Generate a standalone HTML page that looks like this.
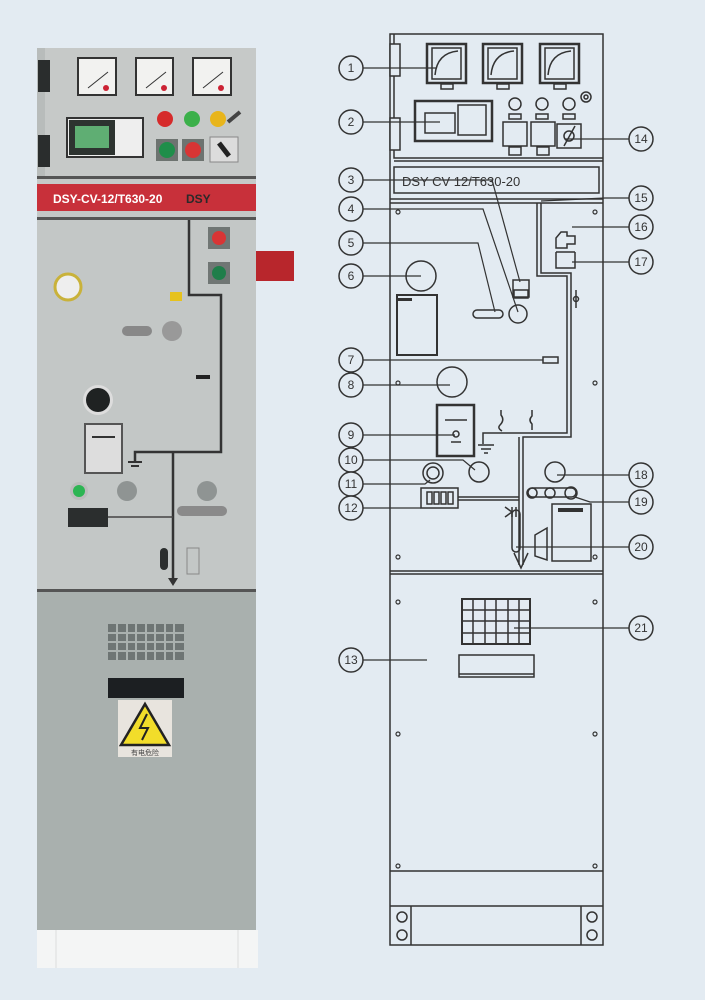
<!DOCTYPE html>
<html><head><meta charset="utf-8"><style>
html,body{margin:0;padding:0;background:#e3ebf2;}
svg{display:block}
text{font-family:"Liberation Sans","Noto Sans CJK SC",sans-serif;}
</style></head><body>
<svg width="705" height="1000" viewBox="0 0 705 1000" xmlns="http://www.w3.org/2000/svg">
<rect width="705" height="1000" fill="#e3ebf2"/>
<!-- LEFT PHOTO -->
<rect x="37" y="48" width="219" height="130" fill="#c6c9c8"/>
<rect x="37" y="48" width="8" height="545" fill="#b8bcbb"/>
<rect x="38" y="60" width="12" height="32" fill="#2a2d2d"/>
<rect x="38" y="135" width="12" height="32" fill="#2a2d2d"/>
<g fill="#f2f2f0" stroke="#333" stroke-width="2">
<rect x="78" y="58" width="38" height="37"/><rect x="136" y="58" width="37" height="37"/><rect x="193" y="58" width="38" height="37"/>
</g>
<g stroke="#333" stroke-width="1" fill="none"><path d="M88 88 L108 72 M146 88 L166 72 M203 88 L223 72"/></g>
<g fill="#c23"><circle cx="106" cy="88" r="3"/><circle cx="164" cy="88" r="3"/><circle cx="221" cy="88" r="3"/></g>
<rect x="67" y="118" width="76" height="39" fill="#eee" stroke="#333" stroke-width="2"/>
<rect x="69" y="120" width="46" height="35" fill="#2d3330"/>
<rect x="75" y="126" width="34" height="22" fill="#5fae73"/>
<circle cx="165" cy="119" r="8" fill="#d62b2b"/><circle cx="192" cy="119" r="8" fill="#3bb04a"/><circle cx="218" cy="119" r="8" fill="#e8b51c"/>
<path d="M228 122 L240 112" stroke="#444" stroke-width="4"/>
<rect x="156" y="139" width="22" height="22" fill="#6d7370"/><circle cx="167" cy="150" r="8" fill="#1f8e4a"/>
<rect x="182" y="139" width="22" height="22" fill="#6d7370"/><circle cx="193" cy="150" r="8" fill="#d83535"/>
<rect x="210" y="137" width="28" height="25" fill="#dcdcdc" stroke="#888"/><path d="M219 143 L229 156" stroke="#222" stroke-width="5"/>
<rect x="37" y="176" width="219" height="3" fill="#555"/>
<rect x="37" y="179" width="219" height="6" fill="#c6c9c8"/>
<rect x="37" y="184" width="219" height="27" fill="#c8303a"/>
<text x="53" y="203" font-size="12" font-weight="bold" fill="#fff">DSY-CV-12/T630-20</text>
<text x="186" y="203" font-size="12" font-weight="bold" fill="#2a2a2a">DSY</text>
<rect x="37" y="211" width="219" height="382" fill="#c3c7c6"/>
<rect x="37" y="217" width="219" height="3" fill="#555"/>
<rect x="256" y="251" width="38" height="30" fill="#b8262c"/>
<path d="M189 220 V295 H221 V452 H135 V462 M173 452 V580" stroke="#333" stroke-width="2.5" fill="none"/>
<path d="M128 462 H142 M131 466 H139" stroke="#333" stroke-width="2"/>
<path d="M168 578 L173 586 L178 578" fill="#333"/>
<rect x="208" y="227" width="22" height="22" fill="#707674"/><circle cx="219" cy="238" r="7" fill="#d83535"/>
<rect x="208" y="262" width="22" height="22" fill="#707674"/><circle cx="219" cy="273" r="7" fill="#1f7e4a"/>
<circle cx="68" cy="287" r="13" fill="#eee" stroke="#c9b23a" stroke-width="3"/>
<rect x="170" y="292" width="12" height="9" fill="#e6c21d"/>
<rect x="122" y="326" width="30" height="10" rx="5" fill="#888"/><circle cx="172" cy="331" r="10" fill="#999"/>
<rect x="196" y="375" width="14" height="4" fill="#222"/>
<circle cx="98" cy="400" r="15" fill="#ddd"/><circle cx="98" cy="400" r="12" fill="#1f2222"/>
<rect x="85" y="424" width="37" height="49" fill="#ddd" stroke="#555" stroke-width="2"/>
<path d="M92 437 H115" stroke="#333" stroke-width="2"/>
<circle cx="79" cy="491" r="9" fill="#bbb"/><circle cx="79" cy="491" r="6" fill="#2db553"/>
<circle cx="127" cy="491" r="10" fill="#8f9493"/><circle cx="207" cy="491" r="10" fill="#8f9493"/>
<rect x="177" y="506" width="50" height="10" rx="5" fill="#8a8a8a"/>
<rect x="68" y="508" width="40" height="19" fill="#2b2e2e"/>
<path d="M108 517 H173" stroke="#444" stroke-width="1.5"/>
<rect x="160" y="548" width="8" height="22" rx="4" fill="#2b2e2e"/>
<rect x="187" y="548" width="12" height="26" fill="none" stroke="#888"/>
<rect x="37" y="589" width="219" height="3" fill="#555"/>
<rect x="37" y="592" width="219" height="338" fill="#a9b0ae"/>
<g fill="#5f6665">
<rect x="108" y="624" width="76" height="36" opacity="0.8"/>
</g>
<g stroke="#a9b0ae" stroke-width="2"><path d="M108 633 H184 M108 642 H184 M108 651 H184 M117 624 V660 M127 624 V660 M136 624 V660 M146 624 V660 M155 624 V660 M165 624 V660 M174 624 V660"/></g>
<rect x="108" y="678" width="76" height="20" fill="#1c1f22"/>
<rect x="118" y="700" width="54" height="57" fill="#e8e4de"/>
<path d="M145 704 L169 745 L121 745 Z" fill="#f2dd2a" stroke="#222" stroke-width="2.5"/>
<path d="M147 714 L140 728 L148 728 L142 740" stroke="#222" stroke-width="2" fill="none"/>
<text x="145" y="755" font-size="7" fill="#444" text-anchor="middle">有电危险</text>
<rect x="37" y="930" width="221" height="38" fill="#f4f5f5"/>
<path d="M56 930 V968 M238 930 V968" stroke="#ddd"/>

<!-- RIGHT DIAGRAM -->
<g fill="none" stroke="#333" stroke-width="1.5">
<rect x="390" y="34" width="213" height="911"/>
<path d="M394 34 V158 H603 M394 161 H603"/>
<rect x="394" y="167" width="205" height="26"/>
<path d="M390 199 H603 M390 203 H603"/>
<path d="M390 571 H603 M390 574 H603"/>
<path d="M390 871 H603 M390 906 H603"/>
<path d="M411 906 V945 M581 906 V945"/>
<rect x="390" y="44" width="10" height="32" fill="#e3ebf2"/>
<rect x="390" y="118" width="10" height="32" fill="#e3ebf2"/>
<rect x="427" y="44" width="39" height="39" stroke-width="2.5"/><rect x="432" y="48" width="29" height="31"/>
<rect x="483" y="44" width="39" height="39" stroke-width="2.5"/><rect x="488" y="48" width="29" height="31"/>
<rect x="540" y="44" width="39" height="39" stroke-width="2.5"/><rect x="545" y="48" width="29" height="31"/>
<path d="M435 75 Q437 53 458 51 M491 75 Q493 53 514 51 M548 75 Q550 53 571 51"/>
<rect x="441" y="84" width="12" height="5"/><rect x="497" y="84" width="12" height="5"/><rect x="554" y="84" width="12" height="5"/>
<rect x="415" y="101" width="77" height="40" stroke-width="2.5"/>
<rect x="425" y="113" width="30" height="20"/>
<rect x="458" y="105" width="28" height="30"/>
<circle cx="515" cy="104" r="6"/><circle cx="542" cy="104" r="6"/><circle cx="569" cy="104" r="6"/>
<circle cx="586" cy="97" r="5"/><circle cx="586" cy="97" r="2"/>
<rect x="509" y="114" width="12" height="5"/><rect x="536" y="114" width="12" height="5"/><rect x="563" y="114" width="12" height="5"/>
<rect x="503" y="122" width="24" height="24"/><rect x="531" y="122" width="24" height="24"/>
<rect x="509" y="147" width="12" height="8"/><rect x="537" y="147" width="12" height="8"/>
<rect x="557" y="124" width="24" height="24"/><path d="M564 146 L575 126"/><circle cx="569" cy="136" r="5"/>
<path d="M537 203 V276 H567 V433 H483 V444"/>
<path d="M541 203 V273 H571 V437 H523 V565"/>
<path d="M519 437 V565"/>
<path d="M514 553 L521 568 L528 553"/>
<path d="M556 238 L561 232 H567 L567 236 H575 V244 H567 V248 H556 Z"/>
<path d="M556 252 H575 M556 252 V268 H575 V252"/>
<path d="M576 290 V308"/><circle cx="576" cy="299" r="2.5"/>
<rect x="513" y="280" width="16" height="17"/><rect x="514" y="290" width="14" height="8"/>
<circle cx="421" cy="276" r="15"/>
<rect x="397" y="295" width="40" height="60" stroke-width="2"/>
<rect x="473" y="310" width="30" height="8" rx="4"/>
<circle cx="518" cy="314" r="9"/>
<rect x="543" y="357" width="15" height="6"/>
<circle cx="452" cy="382" r="15"/>
<rect x="437" y="405" width="37" height="51" stroke-width="2.5"/>
<path d="M445 420 H467"/><circle cx="456" cy="434" r="3"/><path d="M451 442 H461"/>
<path d="M478 445 H494 M481 449 H491 M484 453 H488"/>
<path d="M501 410 V415 Q505 420 500 425 Q497 428 502 431 M532 410 V416 Q528 420 532 424 V430"/>
<circle cx="479" cy="472" r="10"/>
<circle cx="433" cy="473" r="10"/><circle cx="433" cy="473" r="6"/>
<rect x="421" y="488" width="37" height="20"/>
<rect x="427" y="492" width="5" height="12"/><rect x="434" y="492" width="5" height="12"/><rect x="441" y="492" width="5" height="12"/><rect x="448" y="492" width="5" height="12"/>
<path d="M458 497 H519 M458 500 H519"/>
<path d="M505 507 L512 512 L505 517 M512 507 V517 M516 507 V517"/>
<circle cx="555" cy="472" r="10"/>
<rect x="528" y="488" width="48" height="9" rx="4.5"/><circle cx="532" cy="493" r="5"/><circle cx="550" cy="493" r="5"/><circle cx="571" cy="493" r="6"/>
<rect x="552" y="504" width="39" height="57"/>
<rect x="512" y="510" width="8" height="42" rx="4"/>
<path d="M535 535 L547 528 V560 L535 556 Z"/>
<rect x="462" y="599" width="68" height="45" stroke-width="2"/>
<path d="M473 599 V644 M485 599 V644 M496 599 V644 M508 599 V644 M519 599 V644 M462 610 H530 M462 621 H530 M462 633 H530"/>
<rect x="459" y="655" width="75" height="22"/><path d="M459 674 H534"/>
<circle cx="402" cy="917" r="5"/><circle cx="402" cy="935" r="5"/><circle cx="592" cy="917" r="5"/><circle cx="592" cy="935" r="5"/>
</g>
<g fill="none" stroke="#333" stroke-width="1.2">
<circle cx="398" cy="212" r="2"/><circle cx="595" cy="212" r="2"/><circle cx="398" cy="383" r="2"/><circle cx="595" cy="383" r="2"/>
<circle cx="398" cy="557" r="2"/><circle cx="595" cy="557" r="2"/>
<circle cx="398" cy="602" r="2"/><circle cx="595" cy="602" r="2"/><circle cx="398" cy="734" r="2"/><circle cx="595" cy="734" r="2"/><circle cx="398" cy="866" r="2"/><circle cx="595" cy="866" r="2"/>
</g>
<rect x="398" y="298" width="14" height="3" fill="#333"/>
<rect x="558" y="508" width="25" height="4" fill="#333"/>
<text x="402" y="186" font-size="13" fill="#333">DSY CV 12/T630-20</text>
<!-- leaders -->
<g stroke="#333" stroke-width="1.2" fill="none">
<path d="M363 68 H436"/><path d="M363 122 H440"/><path d="M363 180 H492 L520 282"/>
<path d="M363 209 H483 L518 312"/><path d="M363 243 H478 L495 312"/>
<path d="M363 276 H421"/><path d="M363 360 H543"/><path d="M363 385 H450"/>
<path d="M363 435 H455"/><path d="M363 460 H463 L475 470"/><path d="M363 484 H425 L430 480"/>
<path d="M363 508 H421"/><path d="M363 660 H427"/>
<path d="M629 139 H565"/><path d="M629 198 H605 L541 201"/><path d="M629 227 H572"/><path d="M629 262 H572"/>
<path d="M629 475 H557"/><path d="M629 502 H590 L575 497"/><path d="M629 547 H516"/><path d="M629 628 H514"/>
</g>
<g fill="#e3ebf2" stroke="#333" stroke-width="1.5">
<circle cx="351" cy="68" r="12"/><circle cx="351" cy="122" r="12"/><circle cx="351" cy="180" r="12"/><circle cx="351" cy="209" r="12"/><circle cx="351" cy="243" r="12"/><circle cx="351" cy="276" r="12"/><circle cx="351" cy="360" r="12"/><circle cx="351" cy="385" r="12"/><circle cx="351" cy="435" r="12"/><circle cx="351" cy="460" r="12"/><circle cx="351" cy="484" r="12"/><circle cx="351" cy="508" r="12"/><circle cx="351" cy="660" r="12"/>
<circle cx="641" cy="139" r="12"/><circle cx="641" cy="198" r="12"/><circle cx="641" cy="227" r="12"/><circle cx="641" cy="262" r="12"/><circle cx="641" cy="475" r="12"/><circle cx="641" cy="502" r="12"/><circle cx="641" cy="547" r="12"/><circle cx="641" cy="628" r="12"/>
</g>
<g font-size="12" fill="#333" text-anchor="middle">
<text x="351" y="72">1</text><text x="351" y="126">2</text><text x="351" y="184">3</text><text x="351" y="213">4</text><text x="351" y="247">5</text><text x="351" y="280">6</text><text x="351" y="364">7</text><text x="351" y="389">8</text><text x="351" y="439">9</text><text x="351" y="464">10</text><text x="351" y="488">11</text><text x="351" y="512">12</text><text x="351" y="664">13</text>
<text x="641" y="143">14</text><text x="641" y="202">15</text><text x="641" y="231">16</text><text x="641" y="266">17</text><text x="641" y="479">18</text><text x="641" y="506">19</text><text x="641" y="551">20</text><text x="641" y="632">21</text>
</g>
</svg>
</body></html>
